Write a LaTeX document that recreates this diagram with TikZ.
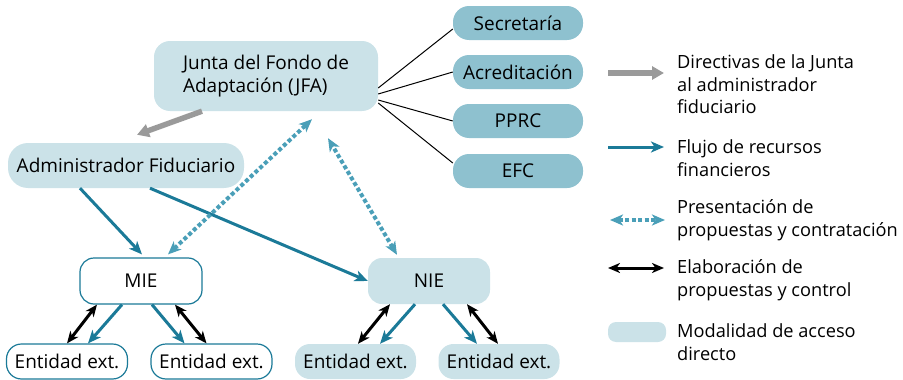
\documentclass[tikz,border=0pt]{standalone}
\usepackage{fontspec}
\setmainfont{Open Sans}
\usetikzlibrary{arrows.meta,calc}
\definecolor{lightbox}{HTML}{CBE2E8}
\definecolor{midbox}{HTML}{8EC1CF}
\definecolor{flowcol}{HTML}{1B7A98}
\definecolor{propcol}{HTML}{4A9FB8}
\definecolor{dircol}{HTML}{9A9A9A}
\definecolor{txtcol}{HTML}{000000}
\newcommand\diagfont{\fontsize{19}{22.5}\selectfont}
\newcommand\legfont{\fontsize{18.2}{22.5}\selectfont}
\begin{document}
\begin{tikzpicture}[x=1pt,y=-1pt,
  every node/.style={font=\diagfont, text=txtcol, inner sep=0pt},
  lbox/.style={fill=lightbox, rounded corners=15pt, align=center},
  mbox/.style={fill=midbox, rounded corners=16pt, minimum width=130pt, minimum height=34pt, align=center},
  wbox/.style={fill=white, draw=flowcol, line width=1.2pt, rounded corners=14pt, align=center},
  entbox/.style={minimum width=121pt, minimum height=35pt, rounded corners=15pt},
  flow/.style={draw=flowcol, line width=3pt, -{Stealth[length=13pt,width=11pt,inset=3.5pt]}},
  ctrl/.style={draw=black, line width=3pt, {Stealth[length=12pt,width=10pt,inset=3.5pt]}-{Stealth[length=12pt,width=10pt,inset=3.5pt]}},
  prop/.style={draw=propcol, line width=4pt, dash pattern=on 4pt off 2.5pt, {Stealth[length=13pt,width=11pt,inset=3.5pt]}-{Stealth[length=13pt,width=11pt,inset=3.5pt]}},
  dirarrow/.style={draw=dircol, line width=5.5pt, -{Triangle[length=12pt,width=13pt]}},
  link/.style={draw=black, line width=1pt},
  legtext/.style={anchor=north west, align=left, font=\legfont}
]
\useasboundingbox (0,0) rectangle (903,380);

% main nodes
\node[lbox, rounded corners=16pt, minimum width=224pt, minimum height=70pt, align=left] (jfa) at (266,76) {Junta del Fondo de\\Adaptación (JFA)};
\node[lbox, rounded corners=20pt, minimum width=236pt, minimum height=45pt] (adm) at (126,165.5) {Administrador Fiduciario};

\node[mbox] (sec) at (518,23) {Secretaría};
\node[mbox] (acr) at (518,72) {Acreditación};
\node[mbox] (pprc) at (518,121) {PPRC};
\node[mbox] (efc) at (518,171) {EFC};

\node[wbox, minimum width=122pt, minimum height=46pt] (mie) at (141,281) {MIE};
\node[lbox, rounded corners=14pt, minimum width=122pt, minimum height=46pt] (nie) at (429,281) {NIE};

\node[wbox, entbox] (ent1) at (67,361.5) {Entidad ext.};
\node[wbox, entbox] (ent2) at (211.5,361.5) {Entidad ext.};
\node[lbox, entbox] (ent3) at (355.5,361.5) {Entidad ext.};
\node[lbox, entbox] (ent4) at (499,361.5) {Entidad ext.};

% JFA to committees
\draw[link] ([yshift=-12pt]jfa.east) -- ([yshift=-6pt]sec.west);
\draw[link] ([yshift=-18pt]jfa.east) -- (acr.west);
\draw[link] ([yshift=-24pt]jfa.east) -- (pprc.west);
\draw[link] ([yshift=-27pt]jfa.east) -- ([yshift=8pt]efc.west);

% directive
\draw[dirarrow] ([xshift=-64pt]jfa.south) -- ([xshift=11pt,yshift=8pt]adm.north);

% flows from administrator
\draw[flow] ([xshift=-46pt]adm.south) -- ([xshift=1pt,yshift=3pt]mie.north);
\draw[flow] ([xshift=24pt]adm.south) -- (nie.west);

% proposals
\draw[prop] ([xshift=27pt,yshift=3pt]mie.north) -- ([xshift=46pt,yshift=-8pt]jfa.south);
\draw[prop] ([xshift=-32pt,yshift=3pt]nie.north) -- ([xshift=62pt,yshift=-27pt]jfa.south);

% MIE children
\draw[ctrl] ([xshift=-44pt]mie.south) -- (ent1.north);
\draw[flow] ([xshift=-19pt]mie.south) -- ([xshift=21pt]ent1.north);
\draw[flow] ([xshift=11pt]mie.south) -- ([xshift=-27pt]ent2.north);
\draw[ctrl] ([xshift=34pt]mie.south) -- ([xshift=-5pt]ent2.north);

% NIE children
\draw[ctrl] ([xshift=-39pt]nie.south) -- ([xshift=2.5pt]ent3.north);
\draw[flow] ([xshift=-14pt]nie.south) -- ([xshift=24.5pt]ent3.north);
\draw[flow] ([xshift=14pt]nie.south) -- ([xshift=-22pt]ent4.north);
\draw[ctrl] ([xshift=38pt]nie.south) -- ([xshift=-1pt]ent4.north);

% legend
\coordinate (l1a) at (608,73);  \coordinate (l1b) at (664,73);
\coordinate (l2a) at (608,147); \coordinate (l2b) at (664,147);
\coordinate (l3a) at (610,220); \coordinate (l3b) at (665,220);
\coordinate (l4a) at (608,268); \coordinate (l4b) at (664,268);
\draw[dirarrow] (l1a) -- (l1b);
\draw[flow] (l2a) -- (l2b);
\draw[prop] (l3a) -- (l3b);
\draw[ctrl] (l4a) -- (l4b);
\node[fill=lightbox, rounded corners=8pt, minimum width=58pt, minimum height=20pt] (lbox) at (637,332) {};

\node[legtext] (t1) at (677,54.5) {Directivas de la Junta\\al administrador\\fiduciario};
\node[legtext] (t2) at (677,139.5) {Flujo de recursos\\financieros};
\node[legtext] (t3) at (677,199.5) {Presentación de\\propuestas y contratación};
\node[legtext] (t4) at (677,259.5) {Elaboración de\\propuestas y control};
\node[legtext] (t5) at (677,323.5) {Modalidad de acceso\\directo};
\end{tikzpicture}
\end{document}
